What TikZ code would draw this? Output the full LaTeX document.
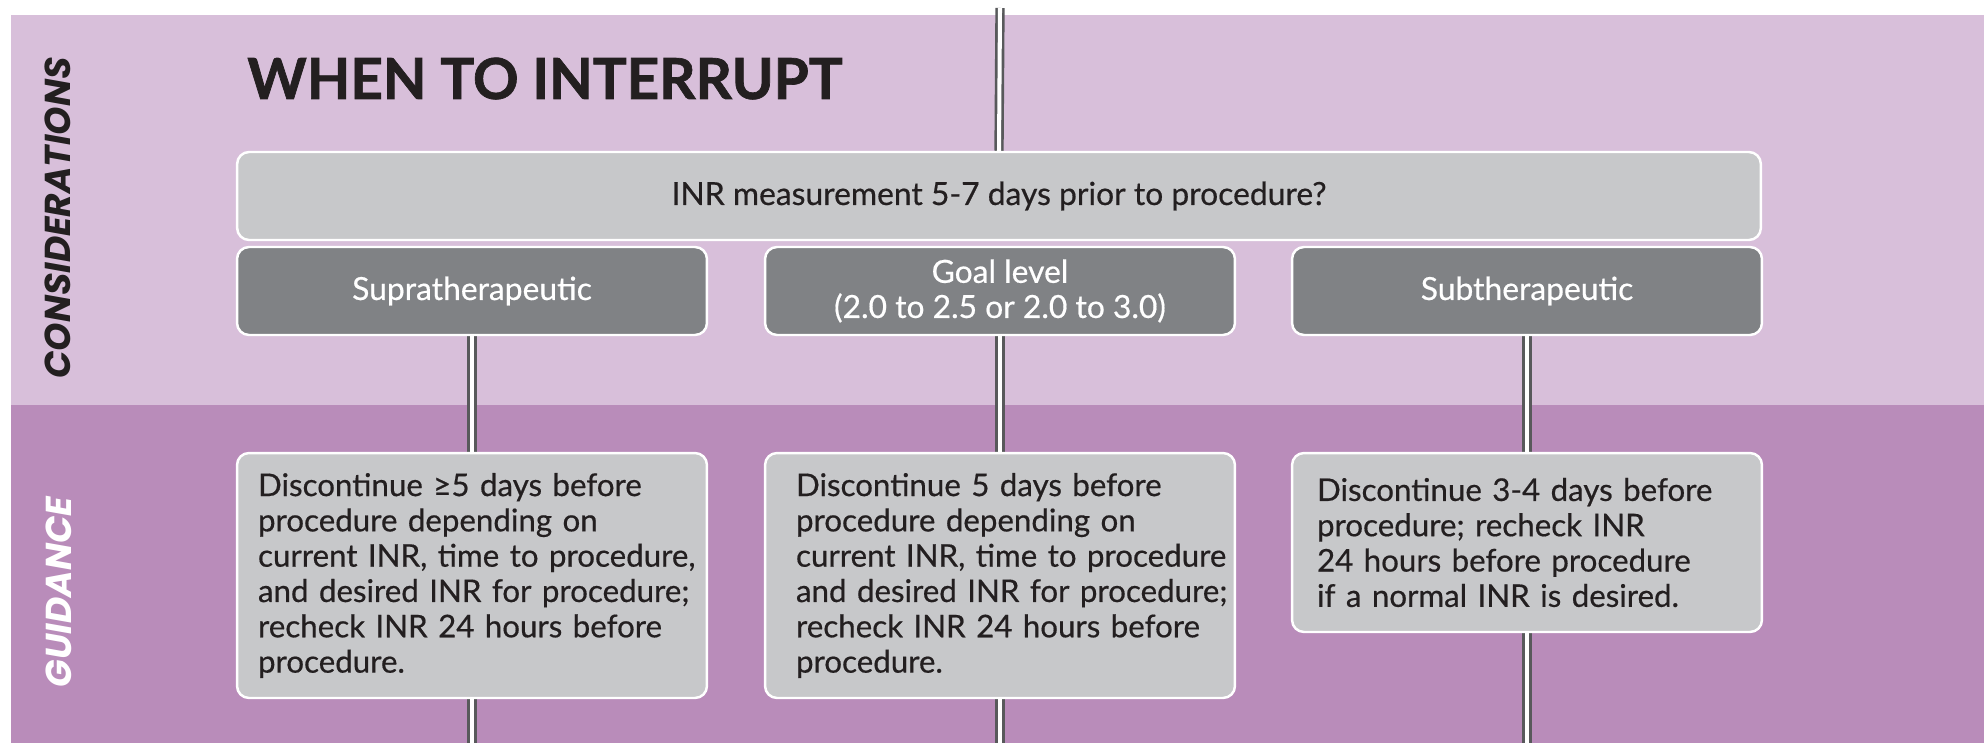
\documentclass[tikz,border=0pt]{standalone}
\usepackage{fontspec}
\setmainfont{Lato}
\newfontfamily\bodyfont{Lato}[FakeBold=0.5]
\newfontfamily\titlefont{Lato}[BoldFeatures={FakeBold=1.2}]
\newfontfamily\sidefont{Poppins}
\usepackage{tikz}
\usetikzlibrary{positioning, backgrounds}
\definecolor{lavtop}{RGB}{216,191,218}
\definecolor{lavbot}{RGB}{185,140,186}
\definecolor{boxlight}{RGB}{199,200,202}
\definecolor{boxdark}{RGB}{128,130,133}
\definecolor{railgray}{RGB}{88,89,91}
\definecolor{inkdark}{RGB}{35,31,32}

\begin{document}
\begin{tikzpicture}[
    x=0.02cm, y=-0.02cm,
    font=\bodyfont\fontsize{17.8}{20.1}\selectfont,
    question/.style={draw=white, line width=1.4pt, rounded corners=6.8pt, fill=boxlight,
        minimum width=30.48cm, minimum height=1.76cm, text=inkdark,
        font=\bodyfont\fontsize{18.1}{20}\selectfont},
    level/.style={draw=white, line width=1.4pt, rounded corners=6.8pt, fill=boxdark,
        minimum width=9.4cm, minimum height=1.76cm, align=center, text=white,
        font=\bodyfont\fontsize{18.1}{20}\selectfont},
    guide/.style={draw=white, line width=1.4pt, rounded corners=6.8pt, fill=boxlight,
        inner xsep=0pt, text width=9.4cm, align=left, text=inkdark,
        execute at begin node={\setlength{\leftskip}{#1}}},
    guide/.default=0.42cm,
    side/.style={rotate=90, font=\sidefont\bfseries\itshape\fontsize{20.5}{24}\selectfont},
    rail/.style={draw=railgray, line width=1.5pt, double=white, double distance=2.3pt}
]
\useasboundingbox (0,0) rectangle (1984,743);

% Title and row labels
\node[anchor=base west, inner sep=0, text=inkdark,
    font=\titlefont\bfseries\fontsize{32.2}{36}\selectfont] (title) at (247,99) {WHEN TO INTERRUPT};
\node[side, text=inkdark] (cons) at (58,218) {CONSIDERATIONS};
\node[side, text=white] (guid) at (59,592) {GUIDANCE};

% Question
\node[question] (inr) at (999,196) {INR measurement 5-7 days prior to procedure?};

% INR levels
\node[level] (supra) at (472,291) {Supratherapeutic};
\node[level] (goal) at (1000,291) {Goal level\\(2.0 to 2.5 or 2.0 to 3.0)};
\node[level] (subt) at (1527,291) {Subtherapeutic};

% Guidance
\node[guide, minimum height=4.9cm] (gsupra) at (472,575.5)
    {Discontinue ≥5 days before\\procedure depending on\\current INR, time to procedure,\\and desired INR for procedure;\\recheck INR 24 hours before\\procedure.};
\node[guide=0.62cm, minimum height=4.9cm] (ggoal) at (1000,575.5)
    {Discontinue 5 days before\\procedure depending on\\current INR, time to procedure\\and desired INR for procedure;\\recheck INR 24 hours before\\procedure.};
\node[guide=0.5cm, minimum height=3.58cm] (gsubt) at (1527,542.5)
    {Discontinue 3-4 days before\\procedure; recheck INR\\24 hours before procedure\\if a normal INR is desired.};

\coordinate (ctop) at (1000,8);
\coordinate (cbot) at (1000,743);
\coordinate (lbot) at (472,743);
\coordinate (rbot) at (1527,743);

% Bands and rails
\begin{scope}[on background layer]
\fill[white] (0,0) rectangle (1984,743);
\fill[lavtop] (11,15) rectangle (1984,405);
\fill[lavbot] (11,405) rectangle (1984,743);
\draw[rail] (ctop) -- (inr.north);
\draw[rail] (goal.south) -- (cbot);
\draw[rail] (supra.south) -- (lbot);
\draw[rail] (subt.south) -- (rbot);
\end{scope}

\end{tikzpicture}
\end{document}
